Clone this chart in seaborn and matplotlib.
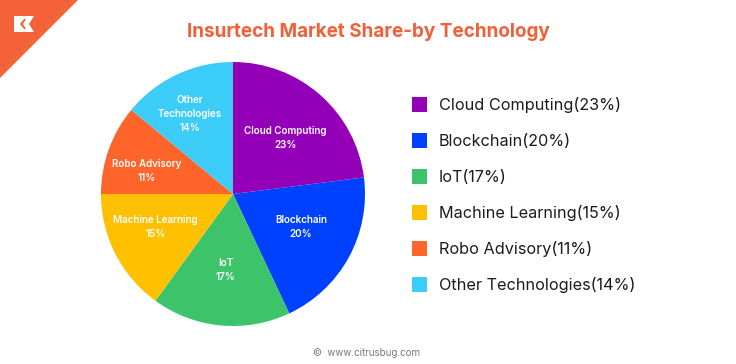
import matplotlib
matplotlib.use('Agg')
import numpy as np
import seaborn as sns
import matplotlib.pyplot as plt
from matplotlib.patches import Polygon, Rectangle

categories = ['Cloud Computing', 'Blockchain', 'IoT', 'Machine Learning', 'Robo Advisory', 'Other Technologies']
slice_labels = ['Cloud Computing', 'Blockchain', 'IoT', 'Machine Learning', 'Robo Advisory', 'Other\nTechnologies']
shares = [23, 20, 17, 15, 11, 14]
colors = ['#9400B8', '#0040FF', '#3DC46B', '#FFC000', '#FF652B', '#3BCDF7']
# how far out each label sits, as a fraction of the radius, plus a nudge in pixels
label_dist = [0.59, 0.58, 0.57, 0.64, 0.68, 0.70]
label_nudge = [(1, -2), (1, 4), (0, -1), (-2, 5), (-1.5, -7), (-4, -4)]

W, H = 736, 364

sns.set_theme(style='white')
plt.rcParams['font.family'] = ['Inter', 'DejaVu Sans']

fig = plt.figure(figsize=(W / 100, H / 100), dpi=100)

# pie
cx, cy, r = 233, 194, 132
ax = fig.add_axes([(cx - r) / W, 1 - (cy + r) / H, 2 * r / W, 2 * r / H])
wedges, _ = ax.pie(shares, colors=colors, startangle=90, counterclock=False, radius=1,
                   wedgeprops={'linewidth': 0})
ax.set_xlim(-1, 1)
ax.set_ylim(-1, 1)

for w, lab, val, d, nudge in zip(wedges, slice_labels, shares, label_dist, label_nudge):
    ang = np.deg2rad((w.theta1 + w.theta2) / 2)
    ax.annotate(f'{lab}\n{val}%', (d * np.cos(ang), d * np.sin(ang)), xytext=nudge, textcoords='offset pixels',
                color='white', ha='center', va='center', fontsize=7.1, fontweight='semibold', linespacing=1.5)

# overlay in pixel coordinates for title, legend, logo
bg = fig.add_axes([0, 0, 1, 1], zorder=3)
bg.set_xlim(0, W)
bg.set_ylim(H, 0)
bg.axis('off')
bg.patch.set_alpha(0)

bg.add_patch(Polygon([(0, 0), (78, 0), (0, 78)], color='#F4623A', lw=0))
bg.add_patch(Polygon([(14, 16), (34, 16), (29, 24), (34, 32), (14, 32)], color='white', lw=0))
bg.add_patch(Polygon([(24, 19), (26, 19), (23, 24), (26, 29), (24, 29), (20, 24)], color='#F4623A', lw=0))

bg.text(368.5, 32, 'Insurtech Market Share-by Technology', color='#F0603A', ha='center', va='center',
        fontsize=13.6, fontweight='bold')

for i, (cat, val, col) in enumerate(zip(categories, shares, colors)):
    y = 104.5 + 36 * i
    bg.add_patch(Rectangle((412, y - 7.5), 15, 15, color=col, lw=0))
    bg.text(439, y + 0.8, f'{cat}({val}%)', color='#1c1c1c', ha='left', va='center', fontsize=11.7)

bg.text(367, 353.5, '©  www.citrusbug.com', color='#777777', ha='center', va='center', fontsize=7)

fig.savefig('out.png', dpi=100, facecolor='white')
